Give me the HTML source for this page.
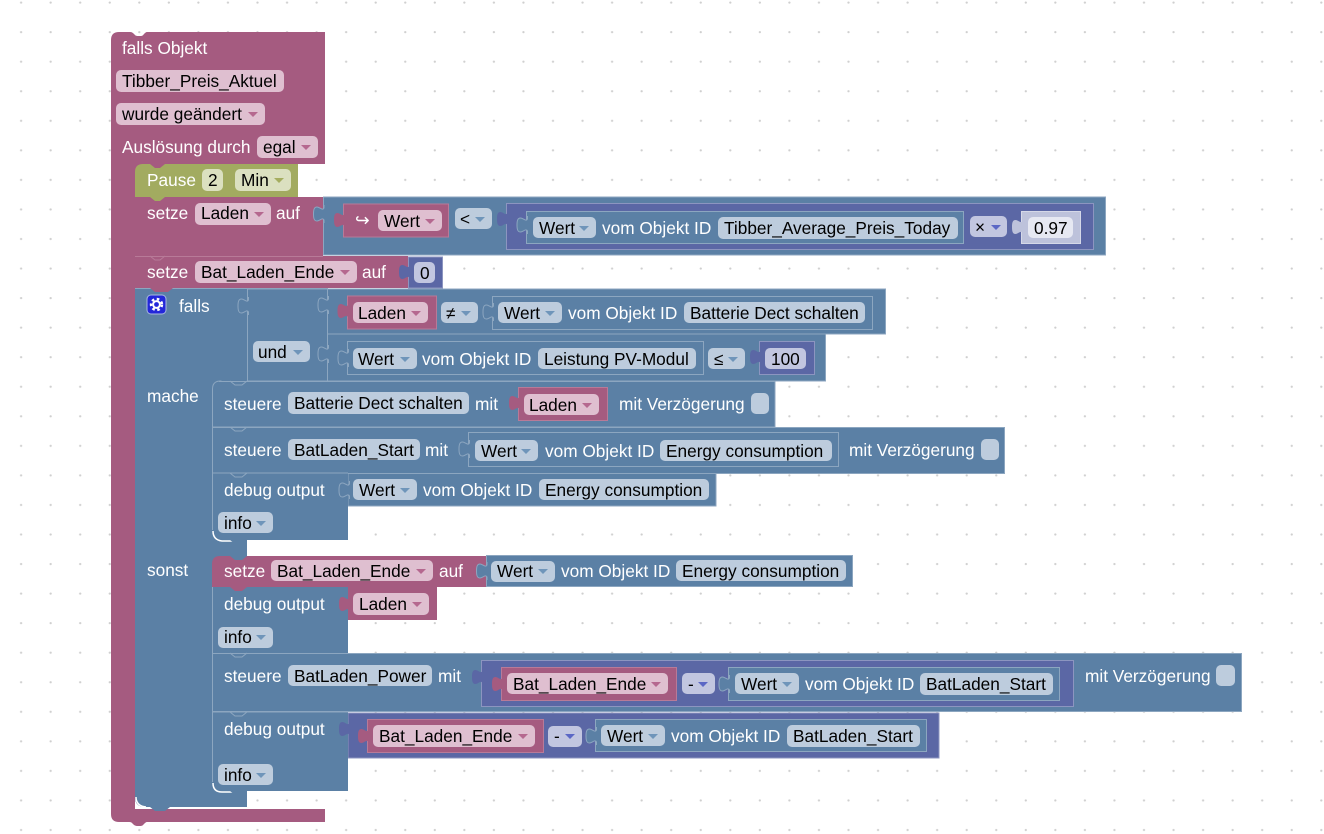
<!DOCTYPE html>
<html lang="de"><head><meta charset="utf-8"><title>Blockly</title>
<style>
html,body{margin:0;padding:0;background:#fff;width:1324px;height:834px;overflow:hidden}
svg{display:block}
text{font-family:"Liberation Sans",sans-serif;font-size:17.25px;fill:#000}
text.w{fill:#fff}
.p{fill:#a55b80;stroke:#b87a98;stroke-width:1}
.b{fill:#5b80a5;stroke:#8ca6c0;stroke-width:1}
.u{fill:#5b67a5;stroke:#8c95c0;stroke-width:1}
.l{fill:#bdc2db;stroke:#d5d8e8;stroke-width:1}
.fp{fill:#dfbfd0}.fb{fill:#bdccdd}.fu{fill:#c2c6e0}.fg{fill:#dbe0c0}.fw{fill:#e6e8f2}
.ap{fill:#b5688f}.ab{fill:#6f95ba}.au{fill:#5b67c5}.ag{fill:#a5ad60}
.n{fill:none;stroke:#8ca6c0;stroke-width:1}
.tb{fill:#5b80a5;stroke:#8ca6c0;stroke-width:1}
.tp{fill:#a55b80}.tu{fill:#5b67a5}.tl{fill:#bdc2db}
</style></head><body>
<svg width="1324" height="834" viewBox="0 0 1324 834" xmlns="http://www.w3.org/2000/svg">
<defs>
<pattern id="g" x="6.5" y="2" width="29.55" height="29.55" patternUnits="userSpaceOnUse"><circle cx="14.6" cy="0.6" r="1.1" fill="#cfcfcf"/><circle cx="14.6" cy="30.15" r="1.1" fill="#cfcfcf"/></pattern>
<path id="t" d="M10.5 0 V3 C9 6 6 2 3.5 2 C0.500 2 0 5 0 9 S0.500 16 3.500 16 C6 16 9 12 10.500 15 V18"/>
<path id="a" d="M0 0 h10 l-5 5 z"/>
</defs>
<rect width="1324" height="834" fill="#fff"/>
<rect width="1324" height="834" fill="url(#g)"/>

<!-- outer trigger -->
<path d="M119 32 h11 c2 0 3 1 4 2 l1 1 c1 1 2 1 5 1 s3 -1 4 -2 c1 -1 2 -2 3 -2 h178 v132 h-190 v645 h190 v13 h-178 c-1 0 -2 1 -3 2 l-1 1 c-1 1 -2 1 -5 1 s-4 -1 -5 -2 l-1 -1 c-1 -1 -2 -1 -4 -1 h-9 q-8 0 -8 -8 V40 q0 -8 8 -8 z" fill="#a55b80"/>
<text class="w" x="122" y="54">falls Objekt</text>
<rect class="fp" x="116" y="70" width="168" height="22" rx="5"/><text x="122" y="87">Tibber_Preis_Aktuel</text>
<rect class="fp" x="116" y="103" width="149" height="22" rx="5"/><text x="122" y="120">wurde geändert</text><use href="#a" class="ap" x="248" y="112"/>
<text class="w" x="122" y="153">Auslösung durch</text>
<rect class="fp" x="257" y="136" width="61" height="22" rx="5"/><text x="263" y="153">egal</text><use href="#a" class="ap" x="301" y="145"/>

<!-- falls block -->
<path d="M135 288 H247 V807 H145 q-10 0 -10 -10 z" fill="#5b80a5"/>
<path d="M136 797 q0 9 10 10" fill="none" stroke="#fff" stroke-width="1.5"/>
<path d="M150 807 l5 4 h10 l5 -4 z" fill="#5b80a5"/>
<rect class="b" x="247.5" y="289" width="80" height="92"/>
<rect class="b" x="327.5" y="289" width="558" height="45"/>
<rect class="b" x="327.5" y="334" width="498" height="47"/>
<path d="M135 288.5 H328" fill="none" stroke="#8ca6c0"/>

<!-- pause -->
<rect x="135" y="164" width="40" height="8" fill="#a55b80"/>
<path d="M143 164 h7 l5 4 h5 l5 -4 h133 v33 H135 v-25 q0 -8 8 -8 z" fill="#a2ab60"/>
<text class="w" x="147" y="186">Pause</text>
<rect class="fg" x="202" y="169" width="21" height="22" rx="5"/><text x="208" y="186">2</text>
<rect class="fg" x="235" y="169" width="56" height="22" rx="5"/><text x="241" y="186">Min</text><use href="#a" class="ag" x="274" y="178"/>

<!-- setze Laden -->
<rect x="135" y="197" width="188" height="59" fill="#a55b80"/>
<rect class="b" x="323.5" y="197" width="782" height="58"/>
<path d="M150 197 l5 4 h5 l5 -4 z" fill="#a2ab60"/>
<text class="w" x="147" y="219">setze</text>
<rect class="fp" x="195" y="203" width="76" height="22" rx="5"/><text x="201" y="219">Laden</text><use href="#a" class="ap" x="254" y="212"/>
<text class="w" x="276" y="219">auf</text>
<use href="#t" class="tb" x="313.5" y="205"/>
<rect class="p" x="343.5" y="204" width="105" height="33"/>
<use href="#t" class="tp" x="334" y="211"/>
<text class="w" x="355" y="226">↪</text>
<rect class="fp" x="378" y="210" width="64" height="21" rx="5"/><text x="384" y="227">Wert</text><use href="#a" class="ap" x="425" y="219"/>
<rect class="fb" x="455" y="208" width="37" height="21" rx="5"/><text x="460" y="225">&lt;</text><use href="#a" class="ab" x="475" y="217"/>
<rect class="u" x="506.5" y="203.5" width="587" height="46"/>
<use href="#t" class="tu" x="497" y="210"/>
<rect class="b" x="526.5" y="211.5" width="437" height="32"/>
<use href="#t" class="tb" x="517" y="216"/>
<rect class="fb" x="533" y="217" width="63" height="21" rx="5"/><text x="539" y="234">Wert</text><use href="#a" class="ab" x="579" y="226"/>
<text class="w" x="602" y="234">vom Objekt ID</text>
<rect class="fb" x="718" y="217" width="240" height="22" rx="5"/><text x="724" y="234">Tibber_Average_Preis_Today</text>
<rect class="fu" x="970" y="216" width="37" height="21" rx="5"/><text x="975" y="233">×</text><use href="#a" class="au" x="991" y="225"/>
<rect class="l" x="1021.5" y="211.5" width="59" height="32"/>
<use href="#t" class="tl" x="1012" y="218"/>
<rect class="fw" x="1028" y="217" width="45" height="21" rx="5"/><text x="1034" y="234">0.97</text>

<!-- setze Bat_Laden_Ende -->
<rect x="135" y="256" width="273" height="32" fill="#a55b80"/>
<path d="M135 256.5 H323" stroke="#b87a98" fill="none"/>
<path d="M150 256 l5 4 h5 l5 -4" fill="none" stroke="#b87a98"/>
<path d="M150 288 l5 4 h13 l5 -4 z" fill="#a55b80"/>
<text class="w" x="147" y="278">setze</text>
<rect class="fp" x="195" y="261" width="162" height="22" rx="5"/><text x="201" y="278">Bat_Laden_Ende</text><use href="#a" class="ap" x="340" y="270"/>
<text class="w" x="362" y="278">auf</text>
<rect class="u" x="408.5" y="257" width="34" height="31"/>
<use href="#t" class="tu" x="399" y="263"/>
<rect class="fu" x="414" y="262" width="21" height="21" rx="5"/><text x="420" y="279">0</text>

<!-- falls row -->
<rect x="147" y="295" width="19" height="19" rx="4" fill="#2327d9" stroke="#a9b8e0"/>
<circle cx="156.5" cy="304.5" r="5.5" fill="none" stroke="#fff" stroke-width="2.4" stroke-dasharray="2.600 2.600"/>
<circle cx="156.5" cy="304.5" r="3.400" fill="none" stroke="#fff" stroke-width="2"/>
<text class="w" x="179" y="312">falls</text>
<use href="#t" class="tb" x="238" y="297"/>
<use href="#t" class="tb" x="318" y="296"/>
<rect class="p" x="347.5" y="296" width="89" height="33"/>
<use href="#t" class="tp" x="337.5" y="302"/>
<rect class="fp" x="353" y="302" width="75" height="21" rx="5"/><text x="358" y="319">Laden</text><use href="#a" class="ap" x="411" y="311"/>
<rect class="fb" x="441" y="302" width="37" height="21" rx="5"/><text x="446" y="319">≠</text><use href="#a" class="ab" x="461" y="311"/>
<rect class="b" x="492.5" y="296.5" width="380" height="33"/>
<use href="#t" class="tb" x="483" y="303"/>
<rect class="fb" x="498" y="302" width="64" height="21" rx="5"/><text x="504" y="319">Wert</text><use href="#a" class="ab" x="545" y="311"/>
<text class="w" x="568" y="319">vom Objekt ID</text>
<rect class="fb" x="684" y="302" width="181" height="21" rx="5"/><text x="690" y="319">Batterie Dect schalten</text>

<rect class="fb" x="253" y="341" width="57" height="21" rx="5"/><text x="258" y="358">und</text><use href="#a" class="ab" x="293" y="350"/>
<use href="#t" class="tb" x="318" y="345"/>
<rect class="b" x="347.5" y="341.5" width="356" height="33"/>
<use href="#t" class="tb" x="338" y="349"/>
<rect class="fb" x="353" y="348" width="64" height="21" rx="5"/><text x="358" y="365">Wert</text><use href="#a" class="ab" x="400" y="357"/>
<text class="w" x="422" y="365">vom Objekt ID</text>
<rect class="fb" x="538" y="348" width="158" height="21" rx="5"/><text x="544" y="365">Leistung PV-Modul</text>
<rect class="fb" x="708" y="348" width="37" height="21" rx="5"/><text x="714" y="365">≤</text><use href="#a" class="ab" x="728" y="357"/>
<rect class="u" x="759.5" y="341.5" width="55" height="33"/>
<use href="#t" class="tu" x="750" y="348"/>
<rect class="fu" x="765" y="348" width="41" height="21" rx="5"/><text x="771" y="365">100</text>

<text class="w" x="147" y="402">mache</text>
<text class="w" x="147" y="576">sonst</text>

<!-- steuere 1 -->
<path d="M220 381.5 H775 V427 H212.5 V389 q0 -8 8 -8 z" fill="#5b80a5" stroke="#8ca6c0"/>
<path d="M230 381 l5 4 h7 l5 -4" class="n"/>
<text class="w" x="224" y="410">steuere</text>
<rect class="fb" x="288" y="392" width="181" height="22" rx="5"/><text x="294" y="409">Batterie Dect schalten</text>
<text class="w" x="475" y="410">mit</text>
<rect class="p" x="518.5" y="387.5" width="89" height="33"/>
<use href="#t" class="tp" x="509" y="394"/>
<rect class="fp" x="524" y="394" width="75" height="21" rx="5"/><text x="529" y="411">Laden</text><use href="#a" class="ap" x="582" y="403"/>
<text class="w" x="619" y="410">mit Verzögerung</text>
<rect class="fb" x="751" y="393" width="18" height="21" rx="5"/>

<!-- steuere 2 -->
<rect class="b" x="212.5" y="427.5" width="792" height="46"/>
<path d="M230 427 l5 4 h7 l5 -4" class="n"/>
<text class="w" x="224" y="456">steuere</text>
<rect class="fb" x="288" y="439" width="132" height="21" rx="5"/><text x="294" y="456">BatLaden_Start</text>
<text class="w" x="425" y="456">mit</text>
<rect class="b" x="468.5" y="432.5" width="370" height="34"/>
<use href="#t" class="tb" x="459" y="440"/>
<rect class="fb" x="475" y="440" width="63" height="21" rx="5"/><text x="481" y="457">Wert</text><use href="#a" class="ab" x="521" y="449"/>
<text class="w" x="545" y="457">vom Objekt ID</text>
<rect class="fb" x="660" y="440" width="172" height="21" rx="5"/><text x="666" y="457">Energy consumption</text>
<text class="w" x="849" y="456">mit Verzögerung</text>
<rect class="fb" x="981" y="439" width="18" height="21" rx="5"/>

<!-- debug 1 -->
<rect x="348" y="473.5" width="368" height="32.5" fill="#5b80a5" stroke="#8ca6c0"/>
<path d="M212.5 473.5 H348 V540 H222 q-9.5 0 -9.5 -9 z" fill="#5b80a5"/>
<path d="M213 473 H348" class="n"/>
<path d="M212.5 473 V530" class="n"/>
<path d="M213 531 q0 9 9 10 h11" fill="none" stroke="#fff" stroke-width="1.5"/>
<path d="M230 473 l5 4 h7 l5 -4" class="n"/>
<path d="M230 540 l5 4 h7 l5 -4 z" fill="#5b80a5"/>
<text class="w" x="224" y="496">debug output</text>
<use href="#t" class="tb" x="339" y="481"/>
<rect class="fb" x="353" y="479" width="64" height="21" rx="5"/><text x="359" y="496">Wert</text><use href="#a" class="ab" x="400" y="488"/>
<text class="w" x="423" y="496">vom Objekt ID</text>
<rect class="fb" x="539" y="479" width="170" height="21" rx="5"/><text x="545" y="496">Energy consumption</text>
<rect class="fb" x="218" y="512" width="55" height="21" rx="5"/><text x="224" y="529">info</text><use href="#a" class="ab" x="256" y="521"/>

<!-- sonst setze -->
<path d="M220 556 h10 l5 4 h7 l5 -4 H486 V587 H212 V564 q0 -8 8 -8 z" fill="#a55b80"/>
<rect class="b" x="486.5" y="555.5" width="366" height="31"/>
<text class="w" x="224" y="577">setze</text>
<rect class="fp" x="271" y="560" width="162" height="21" rx="5"/><text x="277" y="577">Bat_Laden_Ende</text><use href="#a" class="ap" x="416" y="569"/>
<text class="w" x="439" y="577">auf</text>
<use href="#t" class="tb" x="476.5" y="562"/>
<rect class="fb" x="491" y="561" width="64" height="21" rx="5"/><text x="497" y="577">Wert</text><use href="#a" class="ab" x="538" y="569"/>
<text class="w" x="561" y="577">vom Objekt ID</text>
<rect class="fb" x="676" y="560" width="170" height="21" rx="5"/><text x="682" y="577">Energy consumption</text>

<!-- debug 2 -->
<rect x="212" y="587" width="136" height="66" fill="#5b80a5"/>
<path d="M212.5 587 V653" class="n"/>
<path d="M230 587 l5 4 h7 l5 -4 z" fill="#a55b80"/>
<rect x="348" y="587" width="89" height="33" fill="#a55b80"/>
<text class="w" x="224" y="610">debug output</text>
<use href="#t" class="tp" x="339" y="595"/>
<rect class="fp" x="353" y="593" width="76" height="22" rx="5"/><text x="359" y="610">Laden</text><use href="#a" class="ap" x="412" y="602"/>
<rect class="fb" x="218" y="627" width="55" height="21" rx="5"/><text x="224" y="643">info</text><use href="#a" class="ab" x="256" y="635"/>

<!-- steuere 3 -->
<rect class="b" x="212.5" y="653.5" width="1029" height="58"/>
<path d="M230 653 l5 4 h7 l5 -4" class="n"/>
<text class="w" x="224" y="682">steuere</text>
<rect class="fb" x="288" y="665" width="144" height="21" rx="5"/><text x="294" y="682">BatLaden_Power</text>
<text class="w" x="438" y="682">mit</text>
<rect class="u" x="481.5" y="660.5" width="592" height="46"/>
<use href="#t" class="tu" x="472" y="668"/>
<rect class="p" x="501.5" y="667.5" width="175" height="33"/>
<use href="#t" class="tp" x="492" y="675"/>
<rect class="fp" x="507" y="673" width="161" height="21" rx="5"/><text x="513" y="690">Bat_Laden_Ende</text><use href="#a" class="ap" x="651" y="682"/>
<rect class="fu" x="682" y="673" width="33" height="21" rx="5"/><text x="688" y="690">-</text><use href="#a" class="au" x="698" y="682"/>
<rect class="b" x="728.5" y="667.5" width="331" height="33"/>
<use href="#t" class="tb" x="719" y="675"/>
<rect class="fb" x="735" y="673" width="64" height="21" rx="5"/><text x="741" y="690">Wert</text><use href="#a" class="ab" x="782" y="682"/>
<text class="w" x="805" y="690">vom Objekt ID</text>
<rect class="fb" x="920" y="673" width="133" height="22" rx="5"/><text x="926" y="690">BatLaden_Start</text>
<text class="w" x="1085" y="682">mit Verzögerung</text>
<rect class="fb" x="1216" y="665" width="19" height="21" rx="5"/>

<!-- debug 3 -->
<rect x="348" y="713" width="591" height="45" class="u"/>
<path d="M212.5 712.5 H348 V791 H222 q-9.5 0 -9.5 -9 z" fill="#5b80a5"/>
<path d="M213 712 H348 M212.5 712 V782" class="n"/>
<path d="M213 783 q0 9 9 9 h11" fill="none" stroke="#fff" stroke-width="1.5"/>
<path d="M230 712 l5 4 h7 l5 -4" class="n"/>
<path d="M230 791 l5 4 h7 l5 -4 z" fill="#5b80a5"/>
<text class="w" x="224" y="735">debug output</text>
<use href="#t" class="tu" x="339" y="720"/>
<rect class="p" x="367.5" y="719.5" width="176" height="33"/>
<use href="#t" class="tp" x="358" y="727"/>
<rect class="fp" x="373" y="725" width="162" height="22" rx="5"/><text x="379" y="742">Bat_Laden_Ende</text><use href="#a" class="ap" x="518" y="734"/>
<rect class="fu" x="548" y="726" width="34" height="21" rx="5"/><text x="554" y="742">-</text><use href="#a" class="au" x="565" y="734"/>
<rect class="b" x="595.5" y="719.5" width="331" height="32"/>
<use href="#t" class="tb" x="586" y="727"/>
<rect class="fb" x="601" y="725" width="64" height="21" rx="5"/><text x="607" y="742">Wert</text><use href="#a" class="ab" x="648" y="734"/>
<text class="w" x="671" y="742">vom Objekt ID</text>
<rect class="fb" x="787" y="725" width="133" height="22" rx="5"/><text x="793" y="742">BatLaden_Start</text>
<rect class="fb" x="218" y="764" width="55" height="21" rx="5"/><text x="224" y="781">info</text><use href="#a" class="ab" x="256" y="773"/>
</svg>
</body></html>
